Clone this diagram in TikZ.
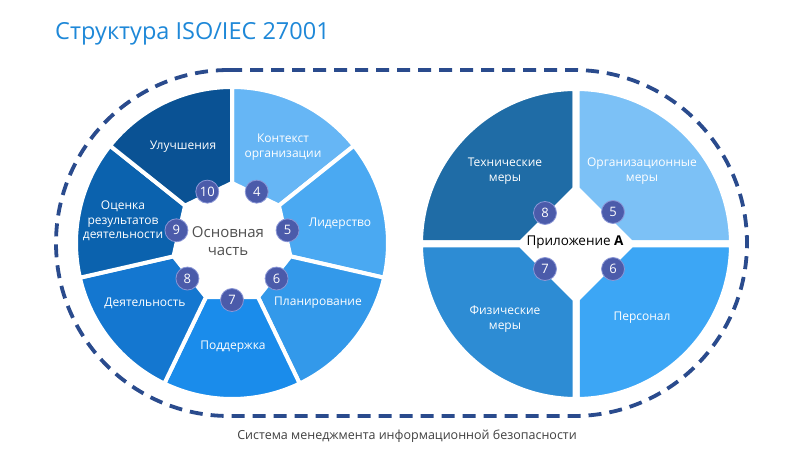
\documentclass[tikz,border=0pt]{standalone}
\usepackage{fontspec}
\setmainfont{Open Sans}
\usetikzlibrary{calc}
\definecolor{titleblue}{HTML}{1E88D8}
\definecolor{dashnavy}{HTML}{2A4B8D}
\definecolor{sA}{HTML}{66B6F5}
\definecolor{sB}{HTML}{4AA9F2}
\definecolor{sC}{HTML}{3399EA}
\definecolor{sD}{HTML}{1A8CEB}
\definecolor{sE}{HTML}{1477D0}
\definecolor{sF}{HTML}{0B62AE}
\definecolor{sG}{HTML}{0A5294}
\definecolor{qTL}{HTML}{1F6CA6}
\definecolor{qTR}{HTML}{7CC1F6}
\definecolor{qBL}{HTML}{2D8CD4}
\definecolor{qBR}{HTML}{3CA6F5}
\definecolor{badgefill}{HTML}{4B5BAA}
\definecolor{badgeline}{HTML}{8A96D6}
\definecolor{centergray}{HTML}{505050}
\definecolor{bottomgray}{HTML}{404040}
\begin{document}
\begin{tikzpicture}[x=1pt,y=1pt,
  seglabel/.style={text=white, align=center, font=\fontsize{12}{14.5}\selectfont, inner sep=0pt},
  badge/.style={circle, fill=badgefill, draw=badgeline, line width=0.8pt, minimum size=23pt, inner sep=0pt, text=white, font=\fontsize{13}{13}\selectfont},
  segsep/.style={draw=white, line width=4pt, line join=miter},
  quadsep/.style={draw=white, line width=7pt, line join=miter}
]
\useasboundingbox (0,0) rectangle (806,458);
\fill[white] (0,0) rectangle (806,458);

% title
\node[anchor=base west, inner sep=0pt, text=titleblue, font=\fontsize{23.5}{28}\selectfont] (title) at (55,418) {Структура ISO/IEC 27001};

% dashed outline
\draw[dashnavy, line width=3.8pt, dash pattern=on 13pt off 8pt] (229,388) -- (574,388) arc[start angle=90, end angle=-90, radius=173] -- (229,42) arc[start angle=270, end angle=90, radius=173] -- cycle;

% left wheel
\begin{scope}[shift={(232,215)}]
\foreach \i/\col in {0/sA,1/sB,2/sC,3/sD,4/sE,5/sF,6/sG} {
  \pgfmathsetmacro\aa{90-\i*360/7}
  \pgfmathsetmacro\ab{90-(\i+1)*360/7}
  \path[fill=\col, segsep] (\aa:60) -- (\aa:156) arc[start angle=\aa, end angle=\ab, radius=156] -- (\ab:60) -- cycle;
}
\node[badge] (l4) at (64.29:57) {4};
\node[badge] (l5) at (12.86:57) {5};
\node[badge] (l6) at (-38.57:57) {6};
\node[badge] (l7) at (-90:57) {7};
\node[badge] (l8) at (-141.43:57) {8};
\node[badge] (l9) at (167.14:57) {9};
\node[badge] (l10) at (115.71:57) {10};
\end{scope}
\node[seglabel] (impr) at (183,311) {Улучшения};
\node[seglabel] (ctx) at (283,311) {Контекст\\организации};
\node[seglabel] (lead) at (340,234) {Лидерство};
\node[seglabel] (plan) at (318,155) {Планирование};
\node[seglabel] (supp) at (233,111) {Поддержка};
\node[seglabel] (oper) at (145,155) {Деятельность};
\node[seglabel] (eval) at (123,237) {Оценка\\результатов\\деятельности};
\node[align=center, text=centergray, font=\fontsize{15}{18}\selectfont, inner sep=0pt] (main) at (228,217) {Основная\\часть};

% right wheel
\begin{scope}[shift={(576,214)}]
\path[fill=qTL, quadsep] (-55,0) -- (-156.5,0) arc[start angle=180, end angle=90, radius=156.5] -- (0,55) -- cycle;
\path[fill=qTR, quadsep] (0,55) -- (0,156.5) arc[start angle=90, end angle=0, radius=156.5] -- (55,0) -- cycle;
\path[fill=qBR, quadsep] (55,0) -- (156.5,0) arc[start angle=0, end angle=-90, radius=156.5] -- (0,-55) -- cycle;
\path[fill=qBL, quadsep] (0,-55) -- (0,-156.5) arc[start angle=-90, end angle=-180, radius=156.5] -- (-55,0) -- cycle;
\node[badge] (r8) at (-31,31) {8};
\node[badge] (r5) at (37,32) {5};
\node[badge] (r7) at (-31,-25) {7};
\node[badge] (r6) at (37,-25) {6};
\node[inner sep=0pt, text=black, font=\fontsize{13.5}{16}\selectfont] (annex) at (-1,2) {Приложение \textbf{А}};
\end{scope}
\node[seglabel] (tech) at (505,287) {Технические\\меры};
\node[seglabel] (org) at (642,287) {Организационные\\меры};
\node[seglabel] (phys) at (505,139) {Физические\\меры};
\node[seglabel] (pers) at (642,140) {Персонал};

% caption
\node[inner sep=0pt, text=bottomgray, font=\fontsize{12.5}{15}\selectfont] (caption) at (407,22) {Система менеджмента информационной безопасности};
\end{tikzpicture}
\end{document}
